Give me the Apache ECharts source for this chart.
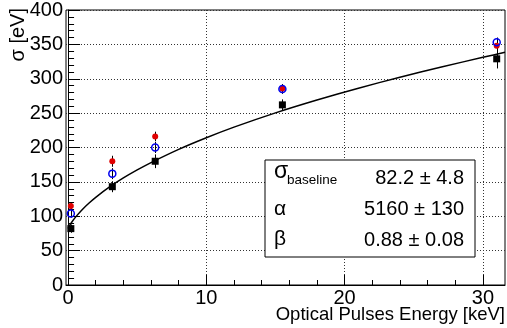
<!DOCTYPE html>
<html>
<head>
<meta charset="utf-8">
<script src="https://cdn.jsdelivr.net/npm/echarts@6/dist/echarts.min.js"></script>
<style>
  html, body { margin: 0; padding: 0; background: #fff; }
  #chart { width: 507px; height: 328px; }
</style>
</head>
<body>
<div id="chart"></div>
<script>
// energia de los pulsos ópticos (keV)
const energy = [0.2, 3.2, 6.3, 15.5, 31.0];

// sigma medida por cada conjunto (eV) y su error
const sigmaBlack = [82, 143, 180, 262, 329];
const errBlack = [6, 8, 10, 8, 14];
const sigmaBlue = [104, 162, 200, 285, 353];
const errBlue = [6, 8, 8, 7, 7];
const sigmaRed = [115, 180, 216, 286, 348];
const errRed = [5, 8, 7, 6, 6];

// curva de ajuste
const fitE = [0, 0.1, 0.3, 0.6, 1, 1.5, 2, 3, 4, 5, 6, 8, 10, 12, 15, 18, 21, 24, 27, 30, 31.6];
const fitSigma = [82.2, 86.2, 92.4, 100.2, 109.2, 118.9, 127.5, 142.6, 155.7, 167.4, 178.1,
  197.3, 214.2, 229.6, 250.4, 269.1, 286.3, 302.2, 317.1, 331.2, 338.5];

// ticks
const xMajor = [0, 10, 20, 30];
const xMinor = [0, 2, 4, 6, 8, 10, 12, 14, 16, 18, 20, 22, 24, 26, 28, 30];

// parámetros del ajuste
const parLabels = ["α", "β"];
const parValues = ["82.2 ± 4.8", "5160 ± 130", "0.88 ± 0.08"];

const FONT = "Liberation Sans, Arial, Helvetica, sans-serif";

const zip3 = (xs, ys, es) => xs.map((x, i) => [x, ys[i], es[i]]);

function errorBars(name, rows) {
  return {
    name,
    type: "custom",
    z: 3,
    data: rows,
    renderItem: (params, api) => {
      const x = api.value(0), y = api.value(1), e = api.value(2);
      const lo = api.coord([x, y - e]);
      const hi = api.coord([x, y + e]);
      const cx = Math.round(lo[0]) + 0.5;
      return {
        type: "line",
        shape: { x1: cx, y1: lo[1], x2: cx, y2: hi[1] },
        style: { stroke: "#000", lineWidth: 1 },
      };
    },
  };
}

const chart = echarts.init(document.getElementById("chart"), null, { renderer: "canvas" });

chart.setOption({
  animation: false,
  textStyle: { fontFamily: FONT },
  grid: {
    left: 66, right: 2, top: 9, bottom: 43,
    show: true, borderColor: "#000", borderWidth: 1, backgroundColor: "transparent",
  },
  xAxis: [
    {
      type: "value",
      min: -0.15,
      max: 31.6,
      axisLine: { show: true, lineStyle: { color: "#000", width: 1 } },
      axisTick: { show: true, inside: true, length: 10, customValues: xMajor, lineStyle: { color: "#000" } },
      axisLabel: { customValues: xMajor, color: "#000", fontSize: 20, margin: 3, fontFamily: FONT },
      splitLine: { show: true, lineStyle: { color: "#333", type: [1, 2], width: 1 } },
    },
    {
      type: "value",
      min: -0.15,
      max: 31.6,
      position: "bottom",
      axisLine: { show: false },
      axisTick: { show: true, inside: true, length: 5, customValues: xMinor, lineStyle: { color: "#000" } },
      axisLabel: { show: false },
      splitLine: { show: false },
    },
  ],
  yAxis: {
    type: "value",
    min: 0,
    max: 400,
    interval: 50,
    axisLine: { show: true, lineStyle: { color: "#000", width: 1 } },
    axisTick: { show: true, inside: true, length: 12, lineStyle: { color: "#000" } },
    minorTick: { show: true, splitNumber: 5, length: 6, lineStyle: { color: "#000" } },
    axisLabel: { color: "#000", fontSize: 20, margin: 3, fontFamily: FONT },
    splitLine: { show: true, lineStyle: { color: "#333", type: [1, 2], width: 1 } },
  },
  series: [
    {
      name: "fit",
      type: "line",
      z: 2,
      data: fitE.map((e, i) => [e, fitSigma[i]]),
      smooth: 0.2,
      showSymbol: false,
      lineStyle: { color: "#000", width: 1.5 },
    },
    errorBars("errBlack", zip3(energy, sigmaBlack, errBlack)),
    errorBars("errBlue", zip3(energy, sigmaBlue, errBlue)),
    errorBars("errRed", zip3(energy, sigmaRed, errRed)),
    {
      name: "black",
      type: "scatter",
      z: 4,
      symbol: "rect",
      symbolSize: 7,
      data: energy.map((e, i) => [e, sigmaBlack[i]]),
      itemStyle: { color: "#000", opacity: 1 },
    },
    {
      name: "red",
      type: "scatter",
      z: 4,
      symbol: "circle",
      symbolSize: 6,
      data: energy.map((e, i) => [e, sigmaRed[i]]),
      itemStyle: { color: "#e00000", opacity: 1 },
    },
    {
      name: "blue",
      type: "scatter",
      z: 5,
      symbol: "circle",
      symbolSize: 7,
      data: energy.map((e, i) => [e, sigmaBlue[i]]),
      itemStyle: { color: "rgba(255,255,255,0)", borderColor: "#0000ee", borderWidth: 1.5, opacity: 1 },
    },
  ],
  graphic: [
    // títulos de ejes
    {
      type: "text", x: 18, y: 8, rotation: Math.PI / 2, z: 10,
      style: { text: "σ [eV]", font: `20px ${FONT}`, fill: "#000", align: "right", verticalAlign: "middle" },
    },
    {
      type: "text", x: 505, y: 315, z: 10,
      style: { text: "Optical Pulses Energy [keV]", font: `18.5px ${FONT}`, fill: "#000", align: "right", verticalAlign: "middle" },
    },
    // caja de parámetros
    {
      type: "rect", z: 10,
      shape: { x: 265, y: 160, width: 210, height: 97 },
      style: { fill: "#fff", stroke: "#000", lineWidth: 1 },
    },
    {
      type: "text", x: 274, y: 172, z: 11,
      style: { text: "σ", font: `23px ${FONT}`, fill: "#000", align: "left", verticalAlign: "middle" },
    },
    {
      type: "text", x: 287, y: 180, z: 11,
      style: { text: "baseline", font: `13.5px ${FONT}`, fill: "#000", align: "left", verticalAlign: "middle" },
    },
    {
      type: "text", x: 274, y: 209, z: 11,
      style: { text: parLabels[0], font: `21px ${FONT}`, fill: "#000", align: "left", verticalAlign: "middle" },
    },
    {
      type: "text", x: 274, y: 239, z: 11,
      style: { text: parLabels[1], font: `21px ${FONT}`, fill: "#000", align: "left", verticalAlign: "middle" },
    },
    ...parValues.map((v, i) => ({
      type: "text", x: 464, y: [178, 209, 240][i], z: 11,
      style: { text: v, font: `20px ${FONT}`, fill: "#000", align: "right", verticalAlign: "middle" },
    })),
  ],
});
</script>
</body>
</html>
